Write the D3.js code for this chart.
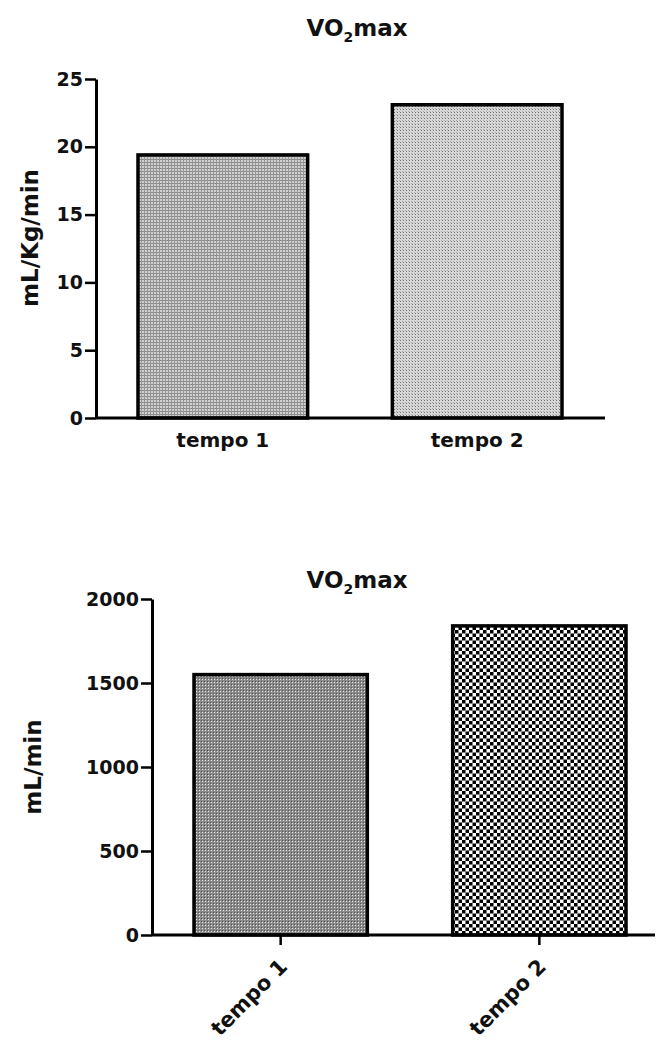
<!DOCTYPE html>
<html>
<head>
<meta charset="utf-8">
<script src="https://cdn.jsdelivr.net/npm/d3@7"></script>
<style>
  body { margin: 0; background: #fff; }
  text { font-family: "DejaVu Sans", sans-serif; font-weight: bold; fill: #111; }
</style>
</head>
<body>
<script>
// data
var categories = ["tempo 1", "tempo 2"];
var relValues = [19.4, 23.1];      // mL/Kg/min
var absValues = [1550, 1840];      // mL/min
var relTicks = [0, 5, 10, 15, 20, 25];
var absTicks = [0, 500, 1000, 1500, 2000];

var W = 661, H = 1041;
var svg = d3.select("body").append("svg").attr("width", W).attr("height", H);
var defs = svg.append("defs");

// fill textures, one per bar
function pat(id, size, draw) {
  var p = defs.append("pattern").attr("id", id).attr("patternUnits", "userSpaceOnUse")
    .attr("width", size).attr("height", size);
  draw(p);
}
pat("grid", 3, function(p) {
  p.append("rect").attr("width", 3).attr("height", 3).attr("fill", "#d0d0d0");
  p.append("rect").attr("width", 3).attr("height", 1).attr("fill", "#8a8a8a");
  p.append("rect").attr("width", 1).attr("height", 3).attr("fill", "#969696");
});
pat("dots", 3, function(p) {
  p.append("rect").attr("width", 3).attr("height", 3).attr("fill", "#d8d8d8");
  p.append("rect").attr("x", 1).attr("y", 1).attr("width", 1).attr("height", 1).attr("fill", "#707070");
  p.append("rect").attr("x", 0).attr("y", 0).attr("width", 1).attr("height", 1).attr("fill", "#a8a8a8");
});
pat("darkdots", 3, function(p) {
  p.append("rect").attr("width", 3).attr("height", 3).attr("fill", "#8a8a8a");
  p.append("rect").attr("x", 1).attr("y", 1).attr("width", 1).attr("height", 1).attr("fill", "#e6e6e6");
  p.append("rect").attr("x", 0).attr("y", 0).attr("width", 1).attr("height", 1).attr("fill", "#555");
});
pat("checker", 7, function(p) {
  p.append("rect").attr("width", 7).attr("height", 7).attr("fill", "#fff");
  p.append("rect").attr("width", 3.5).attr("height", 3.5).attr("fill", "#000");
  p.append("rect").attr("x", 3.5).attr("y", 3.5).attr("width", 3.5).attr("height", 3.5).attr("fill", "#000");
});

function chart(o) {
  var g = svg.append("g");
  var y = d3.scaleLinear().domain(o.domain).range([o.y0, o.y1]);
  var x = d3.scaleBand().domain(categories).range(o.barRange).paddingInner(o.pad).paddingOuter(0);

  // title with subscript
  var t = g.append("text").attr("x", 357).attr("y", o.titleY).attr("text-anchor", "middle")
    .style("font-size", "23px");
  t.append("tspan").text("VO");
  t.append("tspan").text("2").attr("dy", 6).style("font-size", "14px");
  t.append("tspan").text("max").attr("dy", -6);

  // bars
  g.selectAll("rect.bar").data(o.values).join("rect").attr("class", "bar")
    .attr("x", function(d, i) { return x(categories[i]); })
    .attr("width", x.bandwidth())
    .attr("y", function(d) { return y(d); })
    .attr("height", function(d) { return y(0) - y(d); })
    .attr("fill", function(d, i) { return "url(#" + o.fills[i] + ")"; })
    .attr("stroke", "#000").attr("stroke-width", 3.5);

  // y axis
  var ya = g.append("g").attr("transform", "translate(" + o.axisX + ",0)")
    .call(d3.axisLeft(y).tickValues(o.ticks).tickFormat(d3.format("d"))
      .tickSize(11).tickPadding(2).tickSizeOuter(0));
  ya.select(".domain").attr("stroke-width", 3);
  ya.selectAll(".tick line").attr("stroke-width", 2.5);
  ya.selectAll(".tick text").style("font-size", "19px").style("font-family", "DejaVu Sans")
    .style("font-weight", "bold").attr("fill", "#111");

  // x baseline
  g.append("line").attr("x1", o.axisX).attr("x2", o.xEnd).attr("y1", y(0)).attr("y2", y(0))
    .attr("stroke", "#000").attr("stroke-width", 3);

  // y label
  g.append("text").attr("transform", "translate(" + o.ylabX + "," + o.ylabY + ") rotate(-90)")
    .attr("text-anchor", "middle").style("font-size", o.ylabSize + "px").text(o.ylab);

  return { g: g, x: x, y: y };
}

var c1 = chart({
  domain: [0, 25], y0: 418, y1: 79, barRange: [138, 562], pad: 0.333,
  values: relValues, fills: ["grid", "dots"], axisX: 96, xEnd: 605, ticks: relTicks,
  titleY: 36, ylab: "mL/Kg/min", ylabX: 38, ylabY: 238, ylabSize: 23
});
c1.g.selectAll("text.xl").data(categories).join("text").attr("class", "xl")
  .attr("x", function(d) { return c1.x(d) + c1.x.bandwidth() / 2; })
  .attr("y", 447).attr("text-anchor", "middle").style("font-size", "20px").text(function(d) { return d; });

var c2 = chart({
  domain: [0, 2000], y0: 935, y1: 599, barRange: [194, 626], pad: 0.33,
  values: absValues, fills: ["darkdots", "checker"], axisX: 152, xEnd: 655, ticks: absTicks,
  titleY: 588, ylab: "mL/min", ylabX: 41, ylabY: 767, ylabSize: 23
});
var xa = c2.g.append("g").attr("transform", "translate(0," + c2.y(0) + ")")
  .call(d3.axisBottom(c2.x).tickSize(10).tickSizeOuter(0));
xa.select(".domain").remove();
xa.selectAll(".tick line").attr("stroke-width", 2.5);
xa.selectAll(".tick text").style("font-size", "21px").style("font-family", "DejaVu Sans")
  .style("font-weight", "bold").attr("fill", "#111")
  .attr("text-anchor", "end").attr("dy", null).attr("y", 0)
  .attr("transform", "translate(8,33) rotate(-45)");
</script>
</body>
</html>
